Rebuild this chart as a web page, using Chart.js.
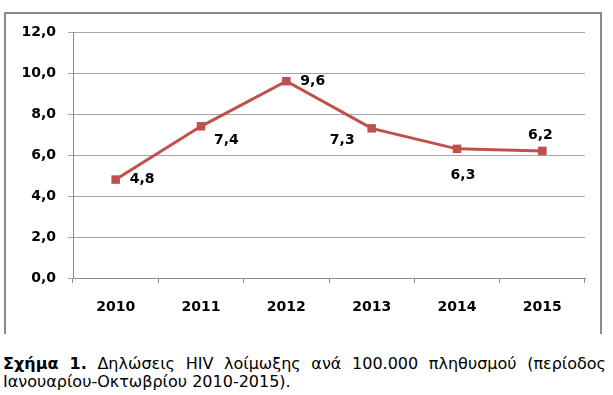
<!DOCTYPE html>
<html>
<head>
<meta charset="utf-8">
<script src="https://cdn.jsdelivr.net/npm/chart.js@4"></script>
<style>
  body { margin: 0; background: #fff; width: 613px; height: 395px; overflow: hidden; position: relative; }
  #frame { position: absolute; left: 4px; top: 12px; width: 594px; height: 320px; border: 2px solid #8a8a8a; border-bottom: none; }
  #wrap { position: absolute; left: 0; top: 0; width: 613px; height: 340px; }
  .cap { position: absolute; left: 3px; width: 603px; font-family: "DejaVu Sans", Verdana, sans-serif; font-size: 16px; color: #000; white-space: nowrap; }
  #cap1 { top: 354px; text-align: justify; text-align-last: justify; white-space: normal; }
  #cap2 { top: 372px; }
</style>
</head>
<body>
<div id="frame"></div>
<div id="wrap"><canvas id="chart" width="613" height="340"></canvas></div>
<div class="cap" id="cap1"><b>Σχήμα 1.</b> Δηλώσεις HIV λοίμωξης ανά 100.000 πληθυσμού (περίοδος</div>
<div class="cap" id="cap2">Ιανουαρίου-Οκτωβρίου 2010-2015).</div>
<script>
const years = ['2010', '2011', '2012', '2013', '2014', '2015'];
const rates = [4.8, 7.4, 9.6, 7.3, 6.3, 6.2];
const yTickLabels = ['0,0', '2,0', '4,0', '6,0', '8,0', '10,0', '12,0'];

// where each value label sits relative to its point
const labelPlace = [
    { dx: 14, dy: 0, align: 'left' },
    { dx: 13, dy: 14, align: 'left' },
    { dx: 14, dy: 0, align: 'left' },
    { dx: -17, dy: 12, align: 'right' },
    { dx: 6, dy: 27, align: 'center' },
    { dx: -2, dy: -16, align: 'center' }
];

const valueLabels = {
    id: 'valueLabels',
    afterDatasetsDraw(chart) {
        const ctx = chart.ctx;
        const meta = chart.getDatasetMeta(0);
        ctx.save();
        ctx.font = 'bold 14px "DejaVu Sans"';
        ctx.fillStyle = '#000';
        ctx.textBaseline = 'middle';
        meta.data.forEach((pt, i) => {
            const p = labelPlace[i];
            ctx.textAlign = p.align;
            ctx.fillText(rates[i].toFixed(1).replace('.', ','), pt.x + p.dx, pt.y + p.dy);
        });
        ctx.restore();
    }
};

const ctx = document.getElementById('chart').getContext('2d');
new Chart(ctx, {
    type: 'line',
    data: {
        labels: years,
        datasets: [{
            data: rates,
            borderColor: '#c0504d',
            backgroundColor: '#c0504d',
            borderWidth: 3,
            pointStyle: 'rect',
            pointRadius: 6,
            pointBorderWidth: 0,
            tension: 0
        }]
    },
    options: {
        responsive: false,
        animation: false,
        events: [],
        layout: { padding: { left: 0, right: 28, top: 32, bottom: 0 } },
        plugins: { legend: { display: false }, tooltip: { enabled: false } },
        scales: {
            x: {
                offset: true,
                afterFit: s => { s.height = 62; },
                border: { color: '#8a8a8a', width: 1 },
                grid: { offset: true, drawOnChartArea: false, drawTicks: true, tickLength: 5, color: '#8a8a8a' },
                ticks: { color: '#000', padding: 16, font: { family: 'DejaVu Sans', size: 14, weight: 'bold' } }
            },
            y: {
                min: 0,
                max: 12,
                afterFit: s => { s.width = 73; },
                border: { color: '#8a8a8a', width: 1 },
                grid: { color: '#a6a6a6', tickLength: 5 },
                ticks: {
                    stepSize: 2,
                    color: '#000',
                    padding: 12,
                    font: { family: 'DejaVu Sans', size: 14, weight: 'bold' },
                    callback: v => yTickLabels[v / 2]
                }
            }
        }
    },
    plugins: [valueLabels]
});
</script>
</body>
</html>
